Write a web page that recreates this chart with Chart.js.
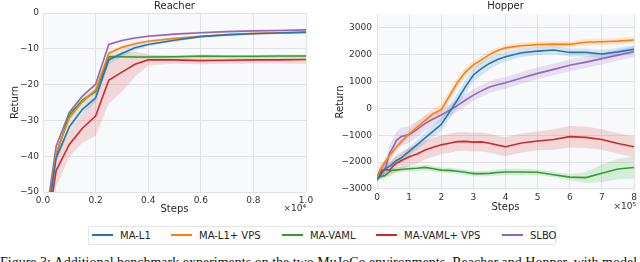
<!DOCTYPE html>
<html>
<head>
<meta charset="utf-8">
<script src="https://cdn.jsdelivr.net/npm/chart.js@4"></script>
<style>
  body { margin: 0; width: 640px; height: 262px; overflow: hidden; background: #fff; font-family: "DejaVu Sans", sans-serif; position: relative; }
  #reacherChart { position: absolute; left: 0; top: 0; }
  #hopperChart { position: absolute; left: 320px; top: 0; }
  #legend { position: absolute; left: 88px; top: 226px; width: 466px; height: 17px; border: 1px solid #e4e4e8; border-radius: 2px; background: #fff; }
  .item { position: absolute; top: 0; height: 17px; line-height: 17px; font-size: 10px; color: #262626; white-space: nowrap; }
  .item span { display: inline-block; width: 21px; height: 2px; vertical-align: middle; margin-right: 7px; margin-top: -2px; }
  #caption { position: absolute; left: 0; top: 255px; font-family: "Liberation Serif", serif; font-size: 14px; color: #111; white-space: nowrap; }
</style>
</head>
<body>
<canvas id="reacherChart" width="318" height="216"></canvas>
<canvas id="hopperChart" width="320" height="216"></canvas>
<div id="legend"></div>
<div id="caption">Figure 3: Additional benchmark experiments on the two MuJoCo environments, Reacher and Hopper, with model learning.</div>
<script>
// Reacher data (steps, mean return per method)
const reacherSteps = [250, 500, 1000, 1500, 2000, 2500, 3000, 3500, 4000, 5000, 6000, 7000, 8000, 9000, 10000];
const reacherL1 = [-53, -40.5, -31.8, -26.9, -23.7, -13.1, -11.3, -9.7, -8.8, -7.6, -6.6, -6.1, -5.8, -5.6, -5.4];
const reacherL1Vps = [-52, -39, -29.4, -24.8, -21.5, -11.3, -9.6, -8.6, -7.9, -7.1, -6.5, -6.0, -5.7, -5.5, -5.3];
const reacherVaml = [-52, -39.5, -28.5, -24.3, -22.0, -12.2, -12.2, -12.3, -12.3, -12.2, -12.0, -12.1, -12.1, -12.0, -12.0];
const reacherVamlVps = [-56, -44, -36.7, -32.2, -28.8, -18.8, -16.5, -14.3, -13.1, -13.1, -13.3, -13.2, -13.1, -13.1, -13.0];
const reacherSlbo = [-50, -37.2, -27.8, -23.2, -19.9, -8.8, -7.7, -7.0, -6.5, -5.9, -5.5, -5.2, -5.0, -4.9, -4.7];
// shaded band half widths
const reacherL1Sd = [1.2, 1.2, 1.2, 1.2, 1.2, 1.2, 0.9, 0.7, 0.5, 0.4, 0.3, 0.3, 0.3, 0.3, 0.3];
const reacherL1VpsSd = [0.8, 0.8, 0.8, 0.8, 0.8, 0.6, 0.5, 0.4, 0.4, 0.3, 0.3, 0.3, 0.3, 0.3, 0.3];
const reacherVamlSd = [0.8, 0.8, 0.8, 0.8, 0.8, 0.5, 0.4, 0.4, 0.4, 0.4, 0.4, 0.4, 0.4, 0.4, 0.4];
const reacherVamlVpsSd = [6, 4.5, 3.5, 4, 5.5, 6.5, 5.5, 3.5, 1.5, 1.1, 1.0, 1.0, 1.0, 1.0, 1.2];
const reacherSlboSd = [0.5, 0.5, 0.5, 0.5, 0.5, 0.4, 0.3, 0.3, 0.3, 0.3, 0.3, 0.3, 0.3, 0.3, 0.3];

// Hopper data
const hopperSteps = [0, 10000, 25000, 40000, 50000, 60000, 75000, 100000, 125000, 150000, 175000, 200000, 225000, 250000,
  275000, 300000, 325000, 350000, 375000, 400000, 450000, 500000, 550000, 600000, 650000, 700000, 750000, 800000];
const hopperL1 = [-2650, -2500, -2250, -2150, -2050, -1950, -1850, -1600, -1350, -1100, -850, -600, -150, 310,
  800, 1240, 1480, 1670, 1820, 1920, 2070, 2130, 2170, 2080, 2080, 2020, 2100, 2200];
const hopperL1Vps = [-2600, -2300, -2000, -1750, -1600, -1450, -1250, -950, -700, -450, -200, -50, 450, 950,
  1350, 1620, 1800, 2000, 2150, 2250, 2330, 2370, 2390, 2380, 2460, 2480, 2500, 2540];
const hopperVaml = [-2600, -2550, -2500, -2350, -2300, -2300, -2280, -2250, -2230, -2200, -2250, -2300, -2310, -2340,
  -2380, -2430, -2430, -2420, -2390, -2370, -2370, -2380, -2470, -2560, -2580, -2420, -2260, -2200];
const hopperVamlVps = [-2650, -2400, -2280, -2300, -2150, -2050, -1950, -1800, -1700, -1550, -1450, -1360, -1300, -1240,
  -1230, -1260, -1250, -1300, -1370, -1430, -1290, -1215, -1160, -1055, -1080, -1160, -1310, -1430];
const hopperSlbo = [-2600, -2300, -2280, -1650, -1450, -1200, -1050, -980, -780, -560, -400, -250, -80, 100,
  300, 490, 650, 790, 880, 950, 1130, 1300, 1450, 1600, 1720, 1850, 1980, 2110];
const hopperL1Sd = [100, 150, 150, 150, 150, 150, 150, 150, 180, 200, 220, 250, 250, 250,
  250, 250, 250, 220, 200, 180, 160, 150, 150, 150, 150, 150, 150, 150];
const hopperL1VpsSd = [100, 150, 150, 150, 150, 150, 150, 150, 180, 200, 200, 200, 200, 200,
  180, 160, 150, 130, 120, 120, 120, 120, 120, 120, 120, 120, 120, 120];
const hopperVamlSd = [80, 100, 100, 100, 100, 100, 100, 100, 100, 100, 100, 100, 100, 100,
  100, 100, 100, 100, 120, 120, 120, 100, 100, 120, 200, 330, 380, 420];
const hopperVamlVpsSd = [100, 200, 250, 250, 300, 300, 320, 350, 350, 350, 350, 350, 350, 350,
  350, 350, 350, 350, 350, 350, 350, 350, 380, 400, 400, 380, 380, 380];
const hopperSlboSd = [100, 250, 300, 300, 320, 330, 330, 320, 300, 280, 250, 230, 220, 220,
  220, 220, 220, 220, 220, 220, 220, 220, 220, 220, 220, 220, 200, 200];

const names = ['MA-L1', 'MA-L1+ VPS', 'MA-VAML', 'MA-VAML+ VPS', 'SLBO'];
const colors = ['#1f77b4', '#ff7f0e', '#2ca02c', '#d62728', '#9467bd'];
const bandColors = ['rgba(31,119,180,0.16)', 'rgba(255,127,14,0.16)', 'rgba(44,160,44,0.16)', 'rgba(214,39,40,0.16)', 'rgba(148,103,189,0.18)'];

function pts(xs, ys) {
    return xs.map((x, i) => ({ x: x, y: ys[i] }));
}

function buildDatasets(xs, means, sds) {
    const lines = means.map((m, k) => ({
        label: names[k],
        data: pts(xs, m),
        borderColor: colors[k],
        borderWidth: 1.6,
        pointRadius: 0,
        tension: 0,
        fill: false,
        order: 0
    }));
    const bands = [];
    means.forEach((m, k) => {
        bands.push({
            data: pts(xs, m.map((v, i) => v + sds[k][i])),
            borderWidth: 0, pointRadius: 0, tension: 0,
            backgroundColor: bandColors[k], fill: '+1', order: 1
        });
        bands.push({
            data: pts(xs, m.map((v, i) => v - sds[k][i])),
            borderWidth: 0, pointRadius: 0, tension: 0,
            fill: false, order: 1
        });
    });
    return lines.concat(bands);
}

const minus = v => String(v).replace('-', '\u2212');

// plot area background and the exponent label
const plotBg = {
    id: 'plotBg',
    beforeDraw(chart) {
        const a = chart.chartArea, ctx = chart.ctx;
        ctx.save();
        ctx.fillStyle = '#f8f9fb';
        ctx.fillRect(a.left, a.top, a.right - a.left, a.bottom - a.top);
        ctx.restore();
    },
    afterDraw(chart, args, opts) {
        const ctx = chart.ctx;
        ctx.save();
        ctx.font = '9px "DejaVu Sans"';
        ctx.fillStyle = '#333';
        ctx.textAlign = 'right';
        ctx.textBaseline = 'middle';
        ctx.fillText(opts.text, opts.x, opts.y);
        ctx.restore();
    }
};

function makeOptions(cfg) {
    return {
        responsive: false,
        animation: false,
        layout: { padding: { left: 0, right: cfg.padRight, top: 0, bottom: 0 } },
        plugins: {
            legend: { display: false },
            tooltip: { enabled: false },
            title: {
                display: true, text: cfg.title, fullSize: false,
                color: '#262626', font: { family: 'DejaVu Sans', size: 10, weight: 'normal' },
                padding: { top: 0, bottom: cfg.titlePad }
            },
            plotBg: { text: cfg.expText, x: cfg.expX, y: cfg.expY }
        },
        scales: {
            x: {
                type: 'linear', min: cfg.xMin, max: cfg.xMax,
                border: { display: false },
                grid: { color: '#e2e2e6', drawTicks: false },
                ticks: { stepSize: cfg.xStep, padding: cfg.xTickPad, color: '#333', font: { family: 'DejaVu Sans', size: 9 }, callback: cfg.xFmt, maxRotation: 0 },
                title: { display: true, text: 'Steps', color: '#262626', font: { family: 'DejaVu Sans', size: 10 }, padding: { top: 0, bottom: cfg.xTitlePad } },
                afterFit(scale) { scale.height = cfg.xHeight; }
            },
            y: {
                min: cfg.yMin, max: cfg.yMax,
                border: { display: false },
                grid: { color: '#e2e2e6', drawTicks: false },
                ticks: { stepSize: cfg.yStep, padding: cfg.yTickPad, color: '#333', font: { family: 'DejaVu Sans', size: 9 }, callback: v => minus(v) },
                title: { display: true, text: 'Return', color: '#262626', font: { family: 'DejaVu Sans', size: 10 }, padding: { top: cfg.yTitlePad, bottom: 0 } },
                afterBuildTicks(scale) { if (cfg.yTicks) scale.ticks = cfg.yTicks.map(v => ({ value: v })); },
                afterFit(scale) { scale.width = cfg.yWidth; }
            }
        }
    };
}

const reacherCtx = document.getElementById('reacherChart').getContext('2d');
new Chart(reacherCtx, {
    type: 'line',
    data: {
        datasets: buildDatasets(reacherSteps,
            [reacherL1, reacherL1Vps, reacherVaml, reacherVamlVps, reacherSlbo],
            [reacherL1Sd, reacherL1VpsSd, reacherVamlSd, reacherVamlVpsSd, reacherSlboSd])
    },
    options: makeOptions({
        title: 'Reacher', titlePad: 1, padRight: 12,
        xMin: 0, xMax: 10000, xStep: 2000, xFmt: v => (v / 10000).toFixed(1),
        xTickPad: 3, xTitlePad: 1, xHeight: 24,
        yMin: -50, yMax: 0, yStep: 10, yTickPad: 4, yTitlePad: 9, yWidth: 43,
        expText: '\u00d710\u2074', expX: 306, expY: 209
    }),
    plugins: [plotBg]
});

const hopperCtx = document.getElementById('hopperChart').getContext('2d');
new Chart(hopperCtx, {
    type: 'line',
    data: {
        datasets: buildDatasets(hopperSteps,
            [hopperL1, hopperL1Vps, hopperVaml, hopperVamlVps, hopperSlbo],
            [hopperL1Sd, hopperL1VpsSd, hopperVamlSd, hopperVamlVpsSd, hopperSlboSd])
    },
    options: makeOptions({
        title: 'Hopper', titlePad: 2, padRight: 6,
        xMin: 0, xMax: 800000, xStep: 100000, xFmt: v => String(v / 100000),
        xTickPad: 2, xTitlePad: 3, xHeight: 26,
        yMin: -3040, yMax: 3510, yStep: 1000, yTickPad: 5, yTitlePad: 14, yWidth: 57,
        yTicks: [-3000, -2000, -1000, 0, 1000, 2000, 3000],
        expText: '\u00d710\u2075', expX: 316, expY: 207
    }),
    plugins: [plotBg]
});

// legend
const legendX = [3, 82, 193, 287, 413];
const legend = document.getElementById('legend');
names.forEach((n, k) => {
    const d = document.createElement('div');
    d.className = 'item';
    d.style.left = legendX[k] + 'px';
    d.innerHTML = '<span style="background:' + colors[k] + '"></span>' + n;
    legend.appendChild(d);
});
</script>
</body>
</html>
